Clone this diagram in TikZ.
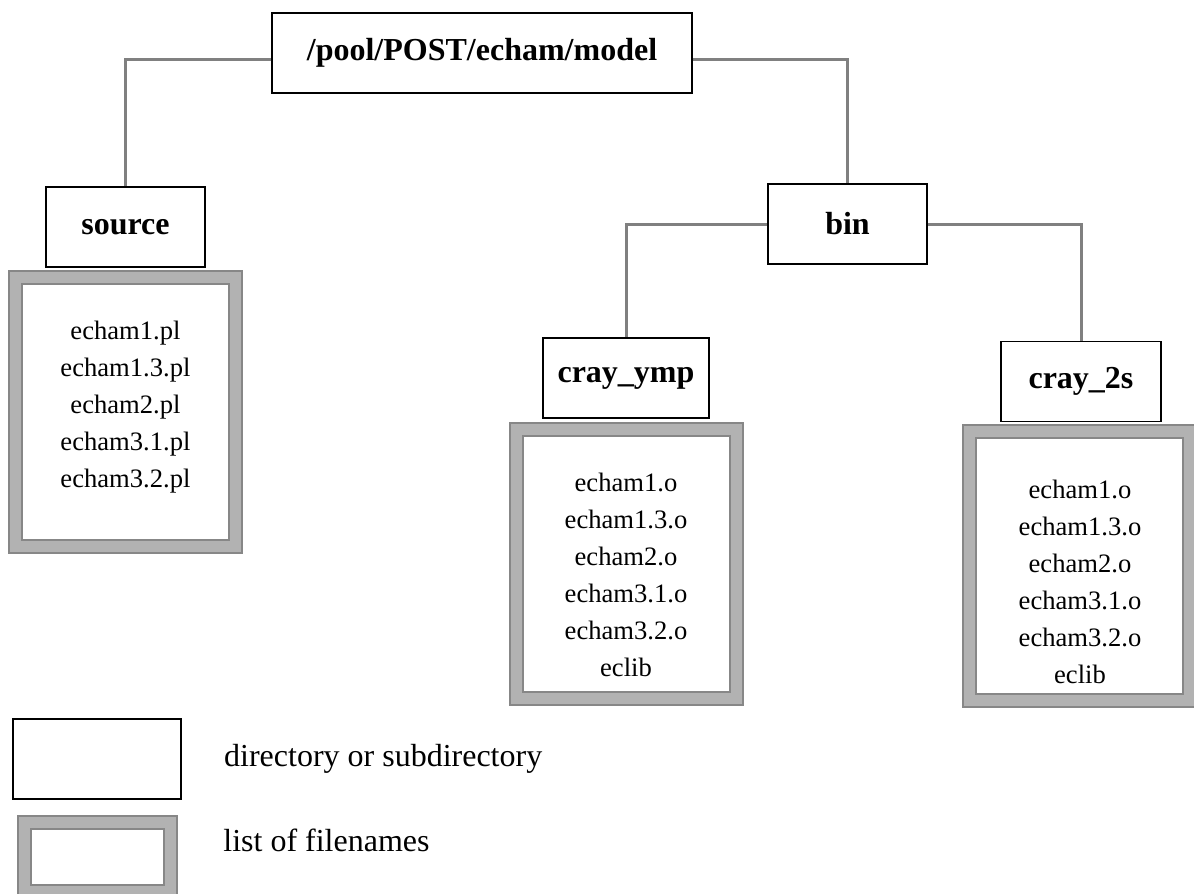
\documentclass[tikz,border=0pt]{standalone}
\usepackage{fontspec}
\setmainfont{Liberation Serif}
\usetikzlibrary{positioning}
\definecolor{LinkClr}{rgb}{0.5,0.5,0.5}
\definecolor{BandClr}{rgb}{0.7,0.7,0.7}
\definecolor{EdgeClr}{rgb}{0.53,0.53,0.53}

\begin{document}
\begin{tikzpicture}[x=0.5pt,y=-0.5pt,
  dir/.style={draw=black,line width=.75pt,fill=white,minimum height=40pt,inner sep=0pt,
    font=\fontsize{16}{19}\selectfont\bfseries},
  files/.style={draw=EdgeClr,line width=1pt,double=BandClr,double distance=5.5pt,fill=white,
    inner sep=0pt,minimum width=110pt,minimum height=134.5pt},
  names/.style={align=center,inner sep=0pt,font=\fontsize{13.3}{18.5}\selectfont},
  key/.style={anchor=west,inner sep=0pt,font=\fontsize{16}{19}\selectfont},
  link/.style={draw=LinkClr,line width=1.5pt}]
\useasboundingbox (0,0) rectangle (1194,894);

% directories
\node[dir,minimum width=210pt] (root) at (482,53) {/pool/POST/echam/model};
\node[dir,minimum width=79.5pt] (source) at (125.5,227) {source};
\node[dir,minimum width=79.5pt] (bin) at (847.5,224) {bin};
\node[dir,minimum width=83pt] (ymp) at (626,378) {cray\_ymp};
\node[dir,minimum width=80pt] (twos) at (1081,381.5) {cray\_2s};

% tree
\draw[link] ([yshift=-3pt]root.west) -| (source.north);
\draw[link] ([yshift=-3pt]root.east) -| (bin.north);
\draw[link] (bin.west) -| (ymp.north);
\draw[link] (bin.east) -| (twos.north);

% file lists
\node[files] (srcfiles) at (125.25,411.5) {};
\node[files] (ympfiles) at (626,563.75) {};
\node[files] (twosfiles) at (1079.5,566) {};
\node[names] (srcnames) at (125.5,407) {echam1.pl\\echam1.3.pl\\echam2.pl\\echam3.1.pl\\echam3.2.pl};
\node[names] (ympnames) at (626,575) {echam1.o\\echam1.3.o\\echam2.o\\echam3.1.o\\echam3.2.o\\eclib};
\node[names] (twosnames) at (1080,582) {echam1.o\\echam1.3.o\\echam2.o\\echam3.1.o\\echam3.2.o\\eclib};

% legend
\node[dir,minimum width=84pt] (dirkey) at (97,759) {};
\node[files,minimum width=72.75pt,minimum height=34.75pt] (listkey) at (97.25,857) {};
\node[key,right=21pt of dirkey] (dirtext) {directory or subdirectory};
\node[key] (listtext) at (223,840) {list of filenames};

\end{tikzpicture}
\end{document}
